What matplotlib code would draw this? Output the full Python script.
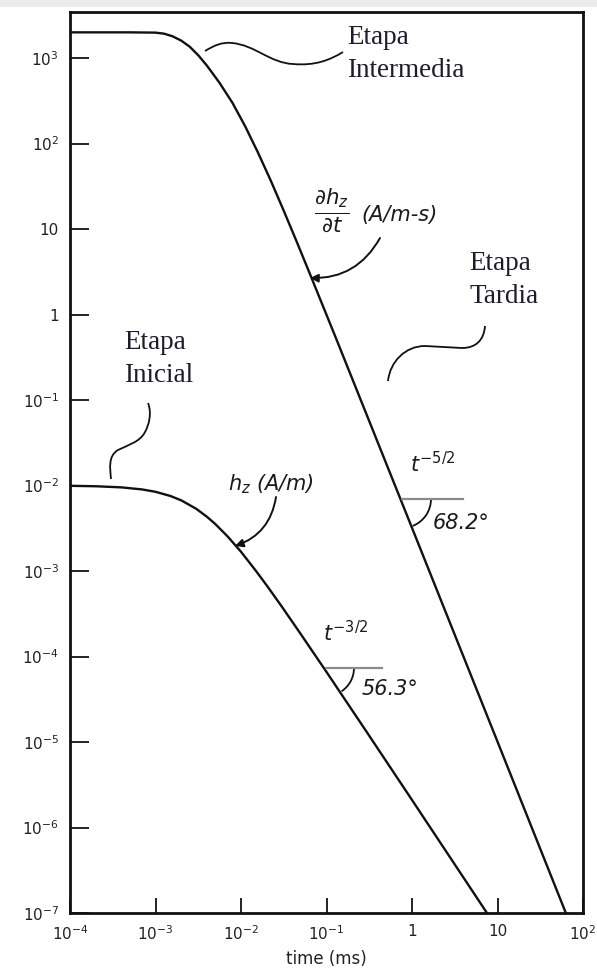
import matplotlib
matplotlib.use("Agg")
import matplotlib.pyplot as plt
from matplotlib.path import Path
from matplotlib.patches import PathPatch, Arc, Rectangle
from matplotlib.ticker import FixedLocator, FixedFormatter

# ---------------- data ----------------
dhdt_time = [1e-4, 5e-4, 1.0e-3, 1.26e-3, 1.58e-3, 2.0e-3, 2.51e-3, 3.16e-3, 3.98e-3,
             5.62e-3, 7.94e-3, 1.12e-2, 1.58e-2, 2.24e-2, 3.16e-2, 4.47e-2, 6.31e-2,
             8.91e-2, 0.126, 0.251, 1.0, 10.0, 63.0]
dhdt_vals = [2000, 2000, 1985, 1930, 1800, 1600, 1360, 1080, 820,
             512, 300, 159, 78.4, 36.5, 16.4, 7.17, 3.09,
             1.32, 0.562, 0.1008, 3.2e-3, 1.01e-5, 1.0e-7]

hz_time = [1e-4, 2e-4, 4e-4, 7e-4, 1e-3, 1.5e-3, 2e-3, 3e-3, 4e-3, 5e-3, 7e-3,
           1e-2, 1.5e-2, 2e-2, 3e-2, 5e-2, 0.1, 0.3, 1.0, 7.53]
hz_vals = [9.93e-3, 9.81e-3, 9.52e-3, 9.0e-3, 8.45e-3, 7.54e-3, 6.71e-3, 5.34e-3, 4.31e-3,
           3.55e-3, 2.53e-3, 1.68e-3, 1.0e-3, 6.78e-4, 3.84e-4, 1.83e-4, 6.6e-5, 1.28e-5,
           2.1e-6, 1.0e-7]

x_ticks = [1e-4, 1e-3, 1e-2, 1e-1, 1, 10, 100]
x_labels = [r'$\mathregular{10^{-4}}$', r'$\mathregular{10^{-3}}$', r'$\mathregular{10^{-2}}$',
            r'$\mathregular{10^{-1}}$', '1', '10', r'$\mathregular{10^{2}}$']
y_ticks = [1e-7, 1e-6, 1e-5, 1e-4, 1e-3, 1e-2, 1e-1, 1, 10, 1e2, 1e3]
y_labels = [r'$\mathregular{10^{-7}}$', r'$\mathregular{10^{-6}}$', r'$\mathregular{10^{-5}}$',
            r'$\mathregular{10^{-4}}$', r'$\mathregular{10^{-3}}$', r'$\mathregular{10^{-2}}$',
            r'$\mathregular{10^{-1}}$', '1', '10', r'$\mathregular{10^{2}}$', r'$\mathregular{10^{3}}$']

W, H = 597, 974
fig = plt.figure(figsize=(W / 100, H / 100), dpi=100)
fig.patch.set_facecolor('white')
fig.patches.append(Rectangle((0, 1 - 7 / H), 1, 7 / H, transform=fig.transFigure,
                             facecolor='#ebebeb', edgecolor='none', zorder=0))

ax = fig.add_axes([70 / W, 1 - 913 / H, (583 - 70) / W, (913 - 12) / H])
ax.set_xscale('log')
ax.set_yscale('log')
ax.set_xlim(1e-4, 1e2)
ax.set_ylim(1e-7, 3.46e3)

ink = '#111111'
ax.plot(dhdt_time, dhdt_vals, color=ink, lw=1.7, solid_joinstyle='round')
ax.plot(hz_time, hz_vals, color=ink, lw=1.7, solid_joinstyle='round')

ax.xaxis.set_major_locator(FixedLocator(x_ticks))
ax.xaxis.set_major_formatter(FixedFormatter(x_labels))
ax.yaxis.set_major_locator(FixedLocator(y_ticks))
ax.yaxis.set_major_formatter(FixedFormatter(y_labels))
ax.minorticks_off()
ax.tick_params(axis='both', which='major', direction='in', width=1.3, color=ink,
               labelsize=11, labelcolor='#222222')
ax.tick_params(axis='x', length=11, pad=8)
ax.tick_params(axis='y', length=14, pad=8)
for s in ax.spines.values():
    s.set_linewidth(2.0)
    s.set_color(ink)
ax.set_xlabel('time (ms)', fontsize=12, color='#222222', labelpad=5)

# ---------------- annotation overlay in pixel coordinates ----------------
ov = fig.add_axes([0, 0, 1, 1])
ov.set_xlim(0, W)
ov.set_ylim(H, 0)
ov.axis('off')
ov.patch.set_alpha(0)

serif = 'Liberation Serif'
txt_col = '#1c1c2c'
ov.text(347, 54, 'Etapa\nIntermedia', family=serif, fontsize=19.5, color=txt_col,
        ha='left', va='center', linespacing=1.4)
ov.text(469, 280, 'Etapa\nTardia', family=serif, fontsize=19.5, color=txt_col,
        ha='left', va='center', linespacing=1.4)
ov.text(124, 359, 'Etapa\nInicial', family=serif, fontsize=19.5, color=txt_col,
        ha='left', va='center', linespacing=1.4)

def squiggle(verts, codes):
    ov.add_patch(PathPatch(Path(verts, codes), fill=False, lw=1.3, color=ink))

C4 = Path.CURVE4
squiggle([(205, 51), (215, 45), (222, 42), (232, 43), (255, 45), (270, 63), (293, 64),
          (315, 66), (330, 60), (343, 52)],
         [Path.MOVETO, C4, C4, C4, C4, C4, C4, C4, C4, C4])
squiggle([(485, 326), (484, 340), (476, 348), (462, 348), (425, 346),
          (405, 346), (390, 362), (388, 381)],
         [Path.MOVETO, C4, C4, C4, Path.LINETO, C4, C4, C4])
squiggle([(148, 403), (152, 413), (149, 425), (145, 432), (140, 442), (128, 445), (118, 450),
          (108, 456), (110, 468), (111, 479)],
         [Path.MOVETO, C4, C4, C4, C4, C4, C4, C4, C4, C4])

# curve labels
lab = dict(color='#1a1a1a', style='italic', fontsize=15)
ov.text(332, 211, r'$\frac{\partial h_z}{\partial t}$', ha='center', va='center',
        color='#1a1a1a', fontsize=22)
ov.text(361, 215, '(A/m-s)', ha='left', va='center', **lab)
ov.text(271, 484, r'$h_z$ (A/m)', ha='center', va='center', **lab)

arrow = dict(arrowstyle='-|>', color=ink, lw=1.4, mutation_scale=12,
             shrinkA=0, shrinkB=0)
ov.annotate('', xy=(310, 278), xytext=(380, 238),
            arrowprops=dict(connectionstyle='arc3,rad=-0.3', **arrow))
ov.annotate('', xy=(235, 546), xytext=(276, 497),
            arrowprops=dict(connectionstyle='arc3,rad=-0.3', **arrow))

# slope markers
gray = '#8a8a8a'
ov.plot([402, 463], [499, 499], color=gray, lw=1.6)
ov.add_patch(Arc((402, 499), 58, 58, theta1=0, theta2=68.2, color=ink, lw=1.3))
ov.text(433, 464, r'$t^{-5/2}$', ha='center', va='center', color='#1a1a1a', fontsize=15)
ov.text(433, 523, '68.2°', ha='left', va='center', **lab)

ov.plot([326, 382], [668, 668], color=gray, lw=1.6)
ov.add_patch(Arc((326, 668), 56, 56, theta1=0, theta2=56.3, color=ink, lw=1.3))
ov.text(346, 633, r'$t^{-3/2}$', ha='center', va='center', color='#1a1a1a', fontsize=15)
ov.text(362, 689, '56.3°', ha='left', va='center', **lab)

fig.savefig('out.png', dpi=100, facecolor=fig.get_facecolor())
